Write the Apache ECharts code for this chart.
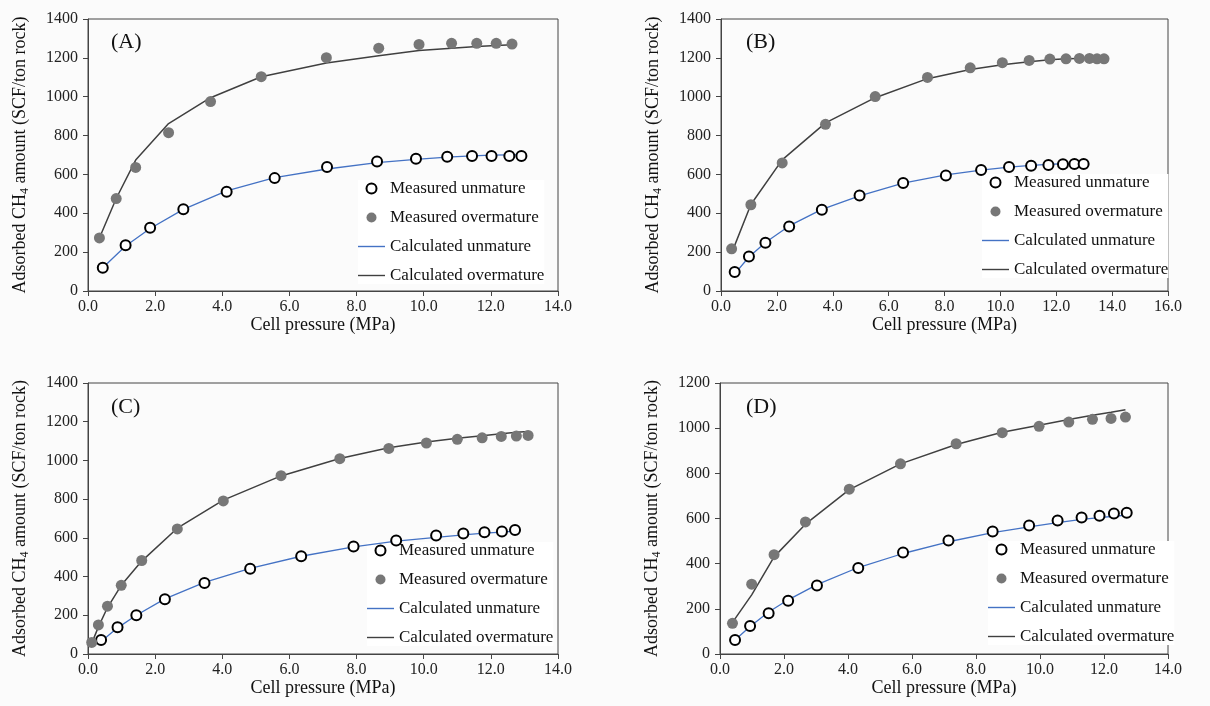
<!DOCTYPE html>
<html>
<head>
<meta charset="utf-8">
<script src="https://cdn.jsdelivr.net/npm/echarts@6/dist/echarts.min.js"></script>
<style>
  html, body { margin: 0; padding: 0; background: #fbfbfb; }
  #main { width: 1210px; height: 706px; }
</style>
</head>
<body>
<div id="main"></div>
<script>
// panel A
var aPressUn = [0.44, 1.12, 1.85, 2.84, 4.13, 5.56, 7.12, 8.61, 9.77, 10.70, 11.44, 12.02, 12.55, 12.91];
var aMeasUn  = [120, 236, 325, 421, 511, 581, 638, 666, 681, 691, 695, 695, 695, 695];
var aCalcUn  = [120, 232, 322, 420, 515, 583, 628, 661, 678, 689, 695, 699, 701, 702];
var aPressOv = [0.34, 0.84, 1.42, 2.40, 3.65, 5.16, 7.10, 8.66, 9.86, 10.83, 11.58, 12.16, 12.63];
var aMeasOv  = [273, 476, 636, 815, 975, 1103, 1201, 1250, 1269, 1275, 1275, 1275, 1271];
var aCalcOv  = [273, 476, 674, 862, 995, 1103, 1173, 1211, 1238, 1250, 1259, 1264, 1268];

// panel B
var bPressUn = [0.49, 1.00, 1.59, 2.44, 3.61, 4.96, 6.52, 8.05, 9.31, 10.31, 11.10, 11.72, 12.24, 12.65, 12.98];
var bMeasUn  = [98, 177, 248, 332, 418, 492, 556, 595, 623, 638, 645, 648, 652, 654, 654];
var bCalcUn  = [88, 175, 250, 335, 420, 490, 555, 598, 622, 638, 647, 652, 655, 657, 658];
var bPressOv = [0.38, 1.07, 2.19, 3.74, 5.52, 7.39, 8.92, 10.07, 11.03, 11.77, 12.35, 12.83, 13.19, 13.46, 13.71];
var bMeasOv  = [217, 444, 659, 858, 1001, 1099, 1149, 1175, 1187, 1194, 1195, 1197, 1197, 1195, 1195];
var bCalcOv  = [195, 445, 675, 865, 995, 1093, 1140, 1165, 1180, 1190, 1195, 1197, 1198, 1198, 1198];

// panel C
var cPressUn = [0.39, 0.88, 1.44, 2.29, 3.47, 4.83, 6.35, 7.91, 9.18, 10.37, 11.18, 11.81, 12.33, 12.72];
var cMeasUn  = [72, 138, 200, 283, 367, 441, 505, 555, 586, 612, 622, 629, 633, 640];
var cCalcUn  = [65, 135, 200, 285, 370, 442, 505, 553, 583, 603, 615, 624, 630, 635];
var cPressOv = [0.11, 0.31, 0.58, 0.99, 1.60, 2.66, 4.03, 5.75, 7.50, 8.96, 10.08, 11.00, 11.74, 12.31, 12.76, 13.11];
var cMeasOv  = [60, 150, 247, 355, 483, 646, 791, 921, 1009, 1062, 1090, 1109, 1117, 1124, 1126, 1129];
var cCalcOv  = [55, 140, 240, 355, 480, 650, 795, 920, 1010, 1065, 1095, 1115, 1128, 1138, 1145, 1150];

// panel D
var dPressUn = [0.47, 0.94, 1.52, 2.13, 3.03, 4.32, 5.72, 7.14, 8.52, 9.66, 10.55, 11.30, 11.86, 12.31, 12.71];
var dMeasUn  = [62, 124, 180, 236, 303, 381, 449, 503, 542, 569, 591, 604, 612, 622, 625];
var dCalcUn  = [62, 122, 186, 240, 307, 383, 445, 497, 537, 563, 582, 596, 604, 610, 615];
var dPressOv = [0.39, 0.99, 1.69, 2.67, 4.04, 5.64, 7.38, 8.82, 9.97, 10.90, 11.64, 12.22, 12.67];
var dMeasOv  = [136, 309, 440, 585, 730, 842, 931, 980, 1008, 1027, 1039, 1043, 1049];
var dCalcOv  = [140, 262, 430, 575, 728, 842, 928, 982, 1013, 1038, 1057, 1070, 1082];

var panelLabels = ['(A)', '(B)', '(C)', '(D)'];
var xMax = [14, 16, 14, 14];
var yMax = [1400, 1400, 1400, 1200];

var panels = [
    [aPressUn, aMeasUn, aCalcUn, aPressOv, aMeasOv, aCalcOv],
    [bPressUn, bMeasUn, bCalcUn, bPressOv, bMeasOv, bCalcOv],
    [cPressUn, cMeasUn, cCalcUn, cPressOv, cMeasOv, cCalcOv],
    [dPressUn, dMeasUn, dCalcUn, dPressOv, dMeasOv, dCalcOv]
];

var font = '"Liberation Serif", "Times New Roman", serif';
var lineIcon = 'path://M0,0 L27,0 L27,1.4 L0,1.4 Z';
var legendData = [
    {name: 'Measured unmature', icon: 'circle'},
    {name: 'Measured overmature', icon: 'circle'},
    {name: 'Calculated unmature', icon: lineIcon, itemStyle: {color: '#4472c4', borderWidth: 0}},
    {name: 'Calculated overmature', icon: lineIcon, itemStyle: {color: '#404040', borderWidth: 0}}
];
var grids = [
    {left: 88, top: 19, width: 470, height: 272},
    {left: 721, top: 19, width: 447, height: 272},
    {left: 88, top: 383, width: 470, height: 271},
    {left: 720, top: 383, width: 448, height: 271}
];
var legendPos = [[358, 180], [982, 174], [367, 542], [988, 541]];
var labelPos = [[111, 31], [746, 31], [111, 396], [746, 396]];

function zip(xs, ys) {
    return xs.map(function (x, i) { return [x, ys[i]]; });
}

var xAxes = [], yAxes = [], series = [], legends = [], titles = [];
grids.forEach(function (g, i) {
    g.show = true;
    g.borderColor = '#444';
    g.borderWidth = 1;
    g.backgroundColor = 'transparent';
    xAxes.push({
        gridIndex: i, type: 'value', min: 0, max: xMax[i], interval: 2,
        name: 'Cell pressure (MPa)', nameLocation: 'middle', nameGap: 21,
        nameTextStyle: {fontFamily: font, fontSize: 18, color: '#111'},
        axisLine: {lineStyle: {color: '#444'}},
        axisTick: {length: 5, lineStyle: {color: '#444'}},
        axisLabel: {fontFamily: font, fontSize: 16, color: '#222', margin: 8,
            formatter: function (v) { return v.toFixed(1); }},
        splitLine: {show: false}
    });
    yAxes.push({
        gridIndex: i, type: 'value', min: 0, max: yMax[i], interval: 200,
        name: 'Adsorbed CH{s|4} amount (SCF/ton rock)', nameLocation: 'middle', nameGap: 57,
        nameTextStyle: {fontFamily: font, fontSize: 18, color: '#111', lineHeight: 22,
            rich: {s: {fontFamily: font, fontSize: 12, color: '#111', lineHeight: 12, verticalAlign: 'bottom'}}},
        axisLine: {show: true, lineStyle: {color: '#444'}},
        axisTick: {show: true, length: 5, lineStyle: {color: '#444'}},
        axisLabel: {fontFamily: font, fontSize: 16, color: '#222', margin: 10,
            formatter: function (v) { return String(v); }},
        splitLine: {show: false}
    });
    var p = panels[i];
    series.push({
        name: 'Calculated unmature', type: 'line', xAxisIndex: i, yAxisIndex: i,
        data: zip(p[0], p[2]), symbol: 'none', silent: true, z: 2,
        lineStyle: {color: '#4472c4', width: 1.3}, itemStyle: {color: '#4472c4'}
    });
    series.push({
        name: 'Calculated overmature', type: 'line', xAxisIndex: i, yAxisIndex: i,
        data: zip(p[3], p[5]), symbol: 'none', silent: true, z: 2,
        lineStyle: {color: '#404040', width: 1.5}, itemStyle: {color: '#404040'}
    });
    series.push({
        name: 'Measured unmature', type: 'scatter', xAxisIndex: i, yAxisIndex: i,
        data: zip(p[0], p[1]), symbol: 'circle', symbolSize: 10, z: 3,
        itemStyle: {color: '#fff', borderColor: '#000', borderWidth: 2, opacity: 1}
    });
    series.push({
        name: 'Measured overmature', type: 'scatter', xAxisIndex: i, yAxisIndex: i,
        data: zip(p[3], p[4]), symbol: 'circle', symbolSize: 11, z: 3,
        itemStyle: {color: '#777', opacity: 1}
    });
    legends.push({
        data: legendData, orient: 'vertical', left: legendPos[i][0], top: legendPos[i][1],
        padding: 0, itemWidth: 27, itemHeight: 10, itemGap: 12, z: 1,
        backgroundColor: '#fff', selectedMode: false,
        textStyle: {fontFamily: font, fontSize: 17, color: '#111', lineHeight: 17}
    });
    titles.push({
        text: panelLabels[i], left: labelPos[i][0], top: labelPos[i][1], padding: 0,
        textStyle: {fontFamily: font, fontSize: 22, fontWeight: 'normal', color: '#111'}
    });
});

var myChart = echarts.init(document.getElementById('main'));
myChart.setOption({
    backgroundColor: '#fbfbfb',
    animation: false,
    title: titles,
    legend: legends,
    grid: grids,
    xAxis: xAxes,
    yAxis: yAxes,
    series: series
});
</script>
</body>
</html>
